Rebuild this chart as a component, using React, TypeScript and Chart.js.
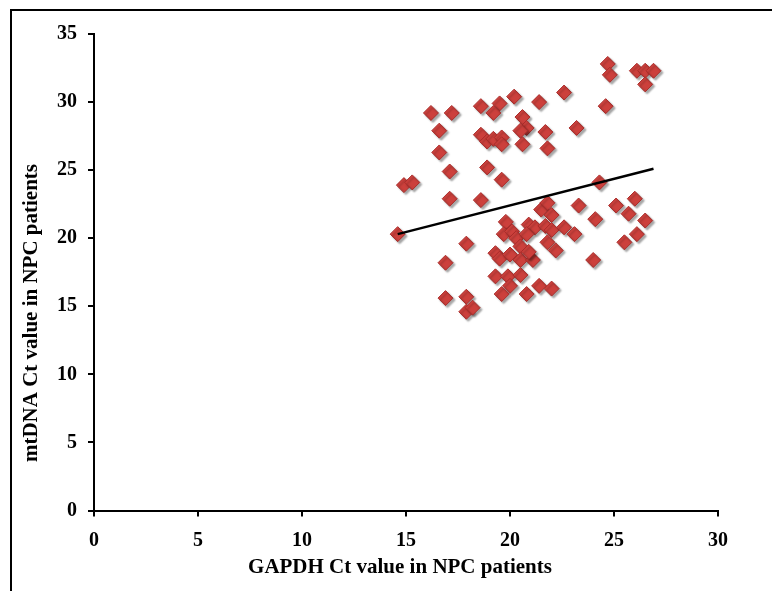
import React, { useEffect, useRef } from "react";
import { Chart, registerables } from "chart.js";

Chart.register(...registerables);

const X_TITLE = "GAPDH Ct value in NPC patients";
const Y_TITLE = "mtDNA Ct value in NPC patients";

const gapdhCt = [
  14.6, 14.9, 15.3, 16.2, 17.2, 16.6, 16.6, 17.1, 17.1, 16.9, 16.9, 17.9, 17.9, 17.9, 18.2,
  18.6, 18.6, 19.5, 20.2, 19.2, 20.6, 21.4, 18.6, 18.9, 19.2, 19.6, 19.6, 20.8, 20.5, 20.6,
  21.7, 21.8, 18.9, 19.6, 24.7, 24.8, 26.1, 26.5, 26.9, 26.5, 22.6, 24.6, 23.2, 24.3, 21.5,
  21.8, 22.0, 23.3, 25.1, 26.0, 25.7, 26.5, 24.1, 19.8, 20.9, 21.2, 21.7, 22.0, 22.6, 23.1,
  25.5, 26.1, 19.7, 20.1, 20.3, 20.8, 20.5, 21.8, 22.2, 19.3, 19.5, 20.0, 20.5, 21.1, 20.9,
  24.0, 19.3, 19.9, 20.5, 20.0, 19.6, 20.8, 21.4, 22.0,
];

const mtdnaCt = [
  20.3, 23.9, 24.1, 29.2, 29.2, 27.9, 26.3, 24.9, 22.9, 18.2, 15.6, 19.6, 15.7, 14.6, 14.9,
  22.8, 29.7, 29.9, 30.4, 29.2, 28.9, 30.0, 27.6, 27.1, 27.3, 27.4, 26.9, 28.1, 27.9, 26.9,
  27.8, 26.6, 25.2, 24.3, 32.8, 32.0, 32.3, 32.3, 32.3, 31.3, 30.7, 29.7, 28.1, 24.1, 22.1,
  22.6, 21.7, 22.4, 22.4, 22.9, 21.8, 21.3, 21.4, 21.2, 21.0, 20.8, 20.9, 20.6, 20.8, 20.3,
  19.7, 20.3, 20.3, 20.5, 20.0, 20.3, 19.4, 19.7, 19.1, 18.9, 18.5, 18.8, 18.4, 18.4, 19.0,
  18.4, 17.2, 17.2, 17.3, 16.5, 15.9, 15.9, 16.5, 16.3,
];

const trendX = [14.6, 26.9];
const trendY = [20.3, 25.1];

const axisTitles = {
  id: "axisTitles",
  afterDraw(chart: any) {
    const ctx = chart.ctx;
    ctx.save();
    ctx.font = 'bold 21px "Liberation Serif"';
    ctx.fillStyle = "#000";
    ctx.textAlign = "center";
    ctx.textBaseline = "middle";
    ctx.fillText(X_TITLE, 400, 568);
    ctx.translate(32, 313);
    ctx.rotate(-Math.PI / 2);
    ctx.fillText(Y_TITLE, 0, 0);
    ctx.restore();
  },
};

const markerShadow = {
  id: "markerShadow",
  beforeDatasetDraw(chart: any, args: any) {
    if (args.index !== 1) return;
    const ctx = chart.ctx;
    ctx.save();
    ctx.shadowColor = "rgba(0,0,0,0.35)";
    ctx.shadowOffsetX = 2;
    ctx.shadowOffsetY = 2;
    ctx.shadowBlur = 2;
  },
  afterDatasetDraw(chart: any, args: any) {
    if (args.index !== 1) return;
    chart.ctx.restore();
  },
};

export default function App() {
  const ref = useRef<HTMLCanvasElement | null>(null);

  useEffect(() => {
    if (!ref.current) return;
    const points = gapdhCt.map((x, i) => ({ x, y: mtdnaCt[i] }));
    const trend = trendX.map((x, i) => ({ x, y: trendY[i] }));
    const tickFont = { family: "Liberation Serif", size: 20, weight: "bold" as const };
    const chart = new Chart(ref.current, {
      type: "scatter",
      data: {
        datasets: [
          {
            type: "line",
            data: trend,
            borderColor: "#000",
            borderWidth: 2.5,
            pointRadius: 0,
            showLine: true,
            fill: false,
            order: 0,
          } as any,
          {
            data: points,
            pointStyle: "rectRot",
            pointRadius: 7.5,
            backgroundColor: "rgb(204,64,60)",
            borderColor: "rgb(168,44,42)",
            borderWidth: 1,
            order: 1,
          },
        ],
      },
      options: {
        animation: false,
        responsive: false,
        maintainAspectRatio: false,
        layout: { padding: { left: 0, top: 34, right: 54, bottom: 0 } },
        plugins: { legend: { display: false }, tooltip: { enabled: false } },
        scales: {
          x: {
            type: "linear",
            min: 0,
            max: 30,
            ticks: { stepSize: 5, color: "#000", font: tickFont, padding: 12 },
            grid: {
              drawOnChartArea: false,
              drawTicks: true,
              tickLength: 6,
              color: "#000",
              lineWidth: 2,
            },
            border: { display: true, color: "#000", width: 2 },
            afterFit(scale: any) {
              scale.height = 80.5;
            },
          },
          y: {
            type: "linear",
            min: 0,
            max: 35,
            ticks: { stepSize: 5, color: "#000", font: tickFont, padding: 11 },
            grid: {
              drawOnChartArea: false,
              drawTicks: true,
              tickLength: 6,
              color: "#000",
              lineWidth: 2,
            },
            border: { display: true, color: "#000", width: 2 },
            afterFit(scale: any) {
              scale.width = 94;
            },
          },
        },
      },
      plugins: [axisTitles, markerShadow],
    });
    return () => chart.destroy();
  }, []);

  return (
    <div
      style={{
        position: "fixed",
        left: 0,
        top: 0,
        width: 772,
        height: 591,
        background: "#fff",
        overflow: "hidden",
      }}
    >
      <canvas ref={ref} width={772} height={591} style={{ display: "block" }} />
      <div
        style={{
          position: "absolute",
          left: 10,
          top: 9,
          width: 800,
          height: 620,
          borderLeft: "2px solid #000",
          borderTop: "2px solid #000",
          pointerEvents: "none",
        }}
      />
    </div>
  );
}
